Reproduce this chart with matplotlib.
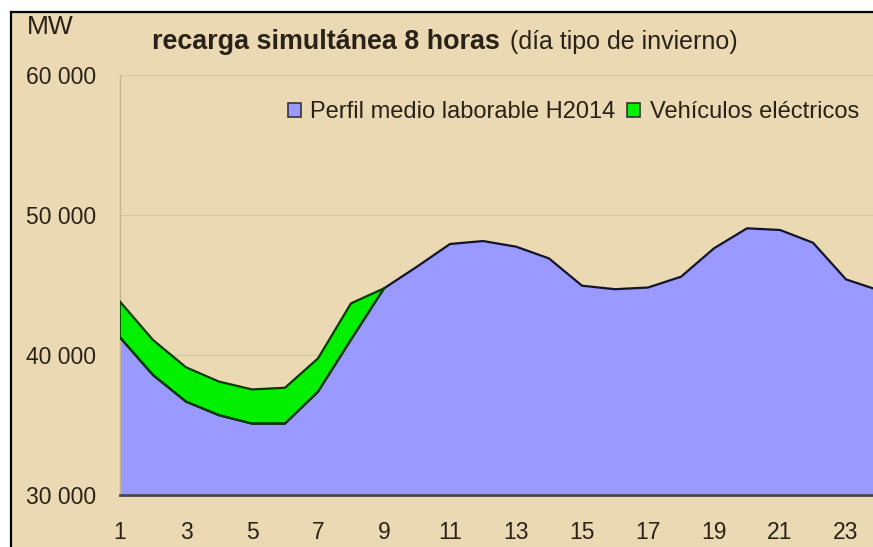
import matplotlib
matplotlib.use("Agg")
import matplotlib.pyplot as plt
from matplotlib.patches import Patch, Rectangle
from matplotlib.lines import Line2D
import numpy as np

plt.rcParams['font.family'] = ['Liberation Sans', 'DejaVu Sans']

hours = list(range(1, 25))
perfil = [41250, 38570, 36670, 35700, 35100, 35100, 37380, 41100, 44760, 46310,
          47930, 48140, 47740, 46900, 44950, 44700, 44820, 45590, 47620, 49050,
          48930, 48020, 45400, 44620]
ev_hours = list(range(1, 10))
vehiculos = [2560, 2500, 2450, 2400, 2440, 2560, 2380, 2590, 0]
xticks = list(range(1, 24, 2))
yticks = [30000, 40000, 50000, 60000]
ytick_labels = ["30 000", "40 000", "50 000", "60 000"]
title_bold = "recarga simultánea 8 horas"
title_normal = "(día tipo de invierno)"
unit = "MW"
labels = ["Perfil medio laborable H2014", "Vehículos eléctricos"]

W, H = 873, 547
BG = '#EAD9B3'
BLUE = '#9999FF'
GREEN = '#00F000'
TXT = '#2a2218'

fig = plt.figure(figsize=(W / 100, H / 100), dpi=100)
fig.patch.set_facecolor('white')

# parchment panel with black border on top/left
fig.add_artist(Rectangle((11 / W, 0), 1 - 11 / W + 0.01, 1 - 12 / H,
                         transform=fig.transFigure, facecolor=BG,
                         edgecolor='none', zorder=-2))
fig.add_artist(Line2D([11 / W, 1], [1 - 12 / H, 1 - 12 / H], color='black',
                      lw=1.6, transform=fig.transFigure, zorder=-1))
fig.add_artist(Line2D([11 / W, 11 / W], [0, 1 - 12 / H], color='black',
                      lw=1.6, transform=fig.transFigure, zorder=-1))

ax_left = 120 / W
ax_bottom = 1 - 495 / H
ax_w = (23 * 33) / W
ax_h = (495 - 75) / H
ax = fig.add_axes([ax_left, ax_bottom, ax_w, ax_h])
ax.set_facecolor('none')

x = np.array(hours)
y1 = np.array(perfil)
ax.fill_between(x, 30000, y1, facecolor=BLUE, edgecolor='none', zorder=2)
ax.plot(x, y1, color='#141428', lw=1.6, zorder=4)

xe = np.array(ev_hours)
base = y1[:len(xe)]
top = base + np.array(vehiculos)
ax.fill_between(xe, base, top, facecolor=GREEN, edgecolor='none', zorder=3)
ax.plot(xe, top, color='#0B3A0B', lw=1.6, zorder=4)
ax.plot(xe, base, color='#0B3A0B', lw=1.6, zorder=4)
ax.plot([1, 1], [base[0], top[0]], color='#0B3A0B', lw=1.2, zorder=4)

ax.set_xlim(1, 24)
ax.set_ylim(30000, 60000)
ax.set_yticks(yticks)
ax.set_yticklabels(ytick_labels)
ax.set_xticks(xticks)
ax.tick_params(axis='both', length=0, labelsize=16.5, colors=TXT)
ax.tick_params(axis='x', pad=19)
ax.tick_params(axis='y', pad=17)
ax.grid(axis='y', color='#D9C69C', lw=1.0, zorder=1)
ax.set_axisbelow(True)
for s in ['top', 'right']:
    ax.spines[s].set_visible(False)
ax.spines['left'].set_color('#C9B68E')
ax.spines['left'].set_linewidth(1.0)
ax.spines['bottom'].set_color('#4a4550')
ax.spines['bottom'].set_linewidth(2.0)
ax.spines['bottom'].set_zorder(5)

fig.text(27 / W, 1 - 27 / H, unit, fontsize=19, color=TXT,
         ha='left', va='center')
fig.text(152 / W, 1 - 42 / H, title_bold, fontsize=19.4, fontweight='bold',
         color=TXT, ha='left', va='center')
fig.text(510 / W, 1 - 42 / H, title_normal, fontsize=18, color=TXT,
         ha='left', va='center')

handles = [Patch(facecolor=BLUE, edgecolor='#333344', lw=1.2),
           Patch(facecolor=GREEN, edgecolor='#333333', lw=1.2)]
leg = fig.legend(handles, labels, loc='center left',
                 bbox_to_anchor=(288 / W, 1 - 112 / H), ncol=2, frameon=False,
                 fontsize=17.0, handlelength=0.55, handleheight=0.55,
                 handletextpad=0.4, columnspacing=0.5, borderpad=0,
                 borderaxespad=0)
for t in leg.get_texts():
    t.set_color(TXT)

fig.savefig('out.png', dpi=100, facecolor=fig.get_facecolor())
